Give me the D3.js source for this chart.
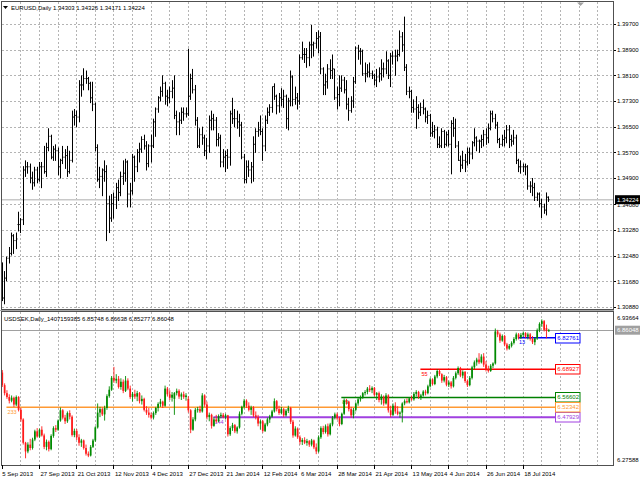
<!DOCTYPE html>
<html>
<head>
<meta charset="utf-8">
<script src="https://cdn.jsdelivr.net/npm/d3@7"></script>
<style>
  html, body { margin: 0; padding: 0; background: #fff; }
  svg { display: block; font-family: "Liberation Sans", Arial, sans-serif; font-size: 6px; }
</style>
</head>
<body>
<svg id="chart" width="640" height="480"></svg>
<script>
// ── Data ─────────────────────────────────────────────────────────────────────
const timeLabels = ["5 Sep 2013", "27 Sep 2013", "21 Oct 2013", "12 Nov 2013", "4 Dec 2013",
  "27 Dec 2013", "21 Jan 2014", "12 Feb 2014", "6 Mar 2014", "28 Mar 2014", "21 Apr 2014",
  "13 May 2014", "4 Jun 2014", "26 Jun 2014", "18 Jul 2014"];
const timeIdx = [0, 16, 32, 48, 64, 80, 96, 112, 128, 144, 160, 176, 192, 208, 224];

const eurTicks = [1.39700, 1.38900, 1.38100, 1.37300, 1.36500, 1.35700, 1.34900,
  1.34080, 1.33280, 1.32480, 1.31680, 1.30880];
const sekRange = [6.27588, 6.93664];

// EURUSD daily bars: [open, high, low, close]
const eurBars = [
  [1.3212,1.3227,1.3108,1.3116],[1.3116,1.3200,1.3098,1.3178],[1.3178,1.3245,1.3170,1.3240],[1.3240,1.3275,1.3225,1.3255],
  [1.3255,1.3320,1.3250,1.3310],[1.3310,1.3315,1.3255,1.3295],[1.3295,1.3320,1.3270,1.3300],[1.3345,1.3385,1.3325,1.3345],
  [1.3345,1.3365,1.3320,1.3360],[1.3360,1.3527,1.3345,1.3515],[1.3515,1.3545,1.3495,1.3525],[1.3525,1.3540,1.3505,1.3525],
  [1.3525,1.3535,1.3475,1.3490],[1.3490,1.3510,1.3455,1.3475],[1.3475,1.3525,1.3465,1.3515],[1.3515,1.3525,1.3475,1.3485],
  [1.3485,1.3540,1.3480,1.3525],[1.3525,1.3540,1.3460,1.3525],[1.3525,1.3590,1.3505,1.3510],[1.3510,1.3600,1.3495,1.3585],
  [1.3585,1.3645,1.3575,1.3620],[1.3620,1.3625,1.3550,1.3555],[1.3555,1.3590,1.3545,1.3580],[1.3580,1.3595,1.3545,1.3575],
  [1.3575,1.3585,1.3500,1.3525],[1.3525,1.3550,1.3490,1.3545],[1.3545,1.3590,1.3535,1.3555],[1.3555,1.3580,1.3520,1.3560],
  [1.3560,1.3590,1.3495,1.3510],[1.3510,1.3575,1.3505,1.3545],[1.3545,1.3700,1.3540,1.3680],[1.3680,1.3705,1.3655,1.3685],
  [1.3685,1.3700,1.3650,1.3680],[1.3680,1.3795,1.3665,1.3780],[1.3780,1.3810,1.3745,1.3780],[1.3780,1.3832,1.3765,1.3800],
  [1.3800,1.3825,1.3785,1.3800],[1.3800,1.3805,1.3765,1.3785],[1.3785,1.3790,1.3725,1.3740],[1.3740,1.3790,1.3700,1.3720],
  [1.3720,1.3725,1.3575,1.3585],[1.3585,1.3595,1.3480,1.3485],[1.3485,1.3525,1.3460,1.3495],[1.3495,1.3520,1.3435,1.3515],
  [1.3515,1.3545,1.3480,1.3510],[1.3510,1.3530,1.3295,1.3410],[1.3410,1.3435,1.3320,1.3365],[1.3365,1.3440,1.3355,1.3410],
  [1.3410,1.3445,1.3365,1.3430],[1.3430,1.3475,1.3395,1.3460],[1.3460,1.3485,1.3420,1.3445],[1.3445,1.3510,1.3435,1.3495],
  [1.3495,1.3545,1.3470,1.3505],[1.3505,1.3550,1.3480,1.3540],[1.3540,1.3545,1.3400,1.3440],[1.3440,1.3475,1.3400,1.3450],
  [1.3450,1.3565,1.3440,1.3555],[1.3555,1.3560,1.3480,1.3525],[1.3525,1.3580,1.3510,1.3570],[1.3570,1.3600,1.3540,1.3580],
  [1.3580,1.3620,1.3570,1.3610],[1.3610,1.3625,1.3580,1.3590],[1.3590,1.3605,1.3515,1.3535],[1.3535,1.3595,1.3525,1.3590],
  [1.3590,1.3625,1.3540,1.3590],[1.3590,1.3675,1.3585,1.3665],[1.3665,1.3710,1.3620,1.3705],[1.3705,1.3745,1.3695,1.3740],
  [1.3740,1.3775,1.3730,1.3760],[1.3760,1.3810,1.3745,1.3785],[1.3785,1.3790,1.3720,1.3745],[1.3745,1.3765,1.3715,1.3740],
  [1.3740,1.3775,1.3725,1.3760],[1.3760,1.3795,1.3740,1.3770],[1.3770,1.3810,1.3675,1.3685],[1.3685,1.3700,1.3625,1.3665],
  [1.3665,1.3695,1.3625,1.3670],[1.3670,1.3710,1.3660,1.3695],[1.3695,1.3710,1.3670,1.3690],[1.3690,1.3710,1.3680,1.3690],
  [1.3690,1.3893,1.3685,1.3745],[1.3745,1.3815,1.3735,1.3800],[1.3800,1.3830,1.3755,1.3765],[1.3765,1.3780,1.3655,1.3670],
  [1.3670,1.3680,1.3585,1.3590],[1.3590,1.3645,1.3585,1.3625],[1.3625,1.3650,1.3595,1.3615],[1.3615,1.3625,1.3560,1.3575],
  [1.3575,1.3615,1.3550,1.3590],[1.3590,1.3685,1.3570,1.3670],[1.3670,1.3700,1.3640,1.3675],[1.3675,1.3690,1.3640,1.3670],
  [1.3670,1.3680,1.3590,1.3610],[1.3610,1.3630,1.3590,1.3615],[1.3615,1.3625,1.3525,1.3540],[1.3540,1.3580,1.3525,1.3555],
  [1.3555,1.3575,1.3510,1.3560],[1.3560,1.3580,1.3520,1.3555],[1.3555,1.3700,1.3530,1.3690],[1.3690,1.3740,1.3660,1.3675],
  [1.3675,1.3705,1.3650,1.3675],[1.3675,1.3700,1.3645,1.3665],[1.3665,1.3690,1.3620,1.3655],[1.3655,1.3665,1.3550,1.3555],
  [1.3555,1.3565,1.3475,1.3485],[1.3485,1.3545,1.3475,1.3525],[1.3525,1.3545,1.3495,1.3515],[1.3515,1.3540,1.3475,1.3525],
  [1.3525,1.3620,1.3480,1.3595],[1.3595,1.3645,1.3570,1.3635],[1.3635,1.3665,1.3620,1.3640],[1.3640,1.3685,1.3625,1.3635],
  [1.3635,1.3645,1.3545,1.3590],[1.3590,1.3685,1.3575,1.3670],[1.3670,1.3710,1.3660,1.3695],[1.3695,1.3720,1.3685,1.3710],
  [1.3710,1.3775,1.3695,1.3775],[1.3775,1.3785,1.3735,1.3745],[1.3745,1.3750,1.3690,1.3715],[1.3715,1.3755,1.3695,1.3740],
  [1.3740,1.3770,1.3715,1.3735],[1.3735,1.3765,1.3710,1.3745],[1.3745,1.3750,1.3645,1.3675],[1.3675,1.3740,1.3640,1.3730],
  [1.3730,1.3825,1.3715,1.3805],[1.3805,1.3810,1.3715,1.3735],[1.3735,1.3775,1.3720,1.3740],[1.3740,1.3755,1.3705,1.3730],
  [1.3730,1.3875,1.3720,1.3865],[1.3865,1.3915,1.3860,1.3875],[1.3875,1.3895,1.3850,1.3875],[1.3875,1.3895,1.3835,1.3865],
  [1.3865,1.3915,1.3840,1.3905],[1.3905,1.3967,1.3865,1.3905],[1.3905,1.3915,1.3870,1.3910],[1.3910,1.3945,1.3895,1.3925],
  [1.3925,1.3950,1.3880,1.3930],[1.3930,1.3945,1.3815,1.3830],[1.3830,1.3835,1.3750,1.3780],[1.3780,1.3815,1.3750,1.3790],
  [1.3790,1.3845,1.3770,1.3830],[1.3830,1.3860,1.3800,1.3825],[1.3825,1.3875,1.3800,1.3830],[1.3830,1.3830,1.3735,1.3740],
  [1.3740,1.3775,1.3705,1.3750],[1.3750,1.3810,1.3715,1.3770],[1.3770,1.3810,1.3760,1.3795],[1.3795,1.3805,1.3755,1.3765],
  [1.3765,1.3795,1.3705,1.3720],[1.3720,1.3740,1.3670,1.3700],[1.3700,1.3745,1.3695,1.3730],[1.3730,1.3805,1.3710,1.3790],
  [1.3790,1.3900,1.3785,1.3895],[1.3895,1.3905,1.3860,1.3885],[1.3885,1.3895,1.3845,1.3885],[1.3885,1.3890,1.3810,1.3815],
  [1.3815,1.3850,1.3790,1.3815],[1.3815,1.3845,1.3805,1.3820],[1.3820,1.3850,1.3805,1.3815],[1.3815,1.3825,1.3800,1.3810],
  [1.3810,1.3815,1.3780,1.3795],[1.3795,1.3830,1.3775,1.3805],[1.3805,1.3835,1.3790,1.3815],[1.3815,1.3860,1.3795,1.3830],
  [1.3830,1.3850,1.3805,1.3830],[1.3830,1.3885,1.3815,1.3855],[1.3855,1.3860,1.3800,1.3810],[1.3810,1.3880,1.3775,1.3870],
  [1.3870,1.3885,1.3845,1.3870],[1.3870,1.3890,1.3810,1.3870],[1.3870,1.3890,1.3855,1.3875],[1.3875,1.3950,1.3870,1.3930],
  [1.3930,1.3945,1.3885,1.3905],[1.3905,1.3993,1.3825,1.3835],[1.3835,1.3845,1.3750,1.3760],[1.3760,1.3775,1.3740,1.3760],
  [1.3760,1.3765,1.3695,1.3710],[1.3710,1.3735,1.3695,1.3705],[1.3705,1.3745,1.3645,1.3710],[1.3710,1.3720,1.3675,1.3695],
  [1.3695,1.3725,1.3685,1.3710],[1.3710,1.3735,1.3690,1.3705],[1.3705,1.3710,1.3665,1.3680],[1.3680,1.3700,1.3660,1.3685],
  [1.3685,1.3690,1.3620,1.3630],[1.3630,1.3665,1.3620,1.3635],[1.3635,1.3655,1.3615,1.3640],[1.3640,1.3650,1.3585,1.3595],
  [1.3595,1.3620,1.3585,1.3590],[1.3590,1.3645,1.3585,1.3635],[1.3635,1.3640,1.3585,1.3595],[1.3595,1.3635,1.3590,1.3625],
  [1.3625,1.3640,1.3590,1.3595],[1.3595,1.3670,1.3503,1.3660],[1.3660,1.3680,1.3620,1.3645],[1.3645,1.3675,1.3585,1.3590],
  [1.3590,1.3605,1.3545,1.3545],[1.3545,1.3560,1.3510,1.3530],[1.3530,1.3575,1.3520,1.3545],[1.3545,1.3565,1.3510,1.3540],
  [1.3540,1.3585,1.3530,1.3570],[1.3570,1.3585,1.3535,1.3565],[1.3565,1.3605,1.3550,1.3600],[1.3600,1.3645,1.3590,1.3615],
  [1.3615,1.3620,1.3575,1.3605],[1.3605,1.3610,1.3570,1.3605],[1.3605,1.3625,1.3585,1.3610],[1.3610,1.3640,1.3590,1.3625],
  [1.3625,1.3645,1.3595,1.3615],[1.3615,1.3660,1.3600,1.3645],[1.3645,1.3700,1.3640,1.3690],[1.3690,1.3700,1.3665,1.3675],
  [1.3675,1.3690,1.3645,1.3655],[1.3655,1.3665,1.3600,1.3610],[1.3610,1.3615,1.3585,1.3595],[1.3595,1.3625,1.3590,1.3610],
  [1.3610,1.3640,1.3590,1.3615],[1.3615,1.3655,1.3600,1.3640],[1.3640,1.3655,1.3585,1.3610],[1.3610,1.3625,1.3590,1.3605],
  [1.3605,1.3640,1.3595,1.3615],[1.3615,1.3625,1.3535,1.3545],[1.3545,1.3550,1.3510,1.3525],[1.3525,1.3545,1.3505,1.3525],
  [1.3525,1.3535,1.3510,1.3525],[1.3525,1.3535,1.3500,1.3525],[1.3525,1.3530,1.3455,1.3465],[1.3465,1.3480,1.3445,1.3465],
  [1.3465,1.3490,1.3435,1.3460],[1.3460,1.3475,1.3420,1.3430],[1.3430,1.3445,1.3420,1.3440],[1.3440,1.3445,1.3400,1.3410],
  [1.3410,1.3425,1.3367,1.3400],[1.3400,1.3410,1.3380,1.3390],[1.3390,1.3445,1.3375,1.3430],[1.34303,1.34326,1.34171,1.34224]
];

// USDSEK daily candles: [open, high, low, close]
const sekBars = [
  [6.675,6.686,6.612,6.620],[6.620,6.628,6.575,6.585],[6.585,6.598,6.560,6.568],[6.568,6.580,6.540,6.552],
  [6.552,6.575,6.545,6.565],[6.565,6.570,6.525,6.535],[6.535,6.575,6.528,6.568],[6.568,6.572,6.505,6.512],
  [6.512,6.520,6.460,6.470],[6.470,6.475,6.360,6.368],[6.368,6.372,6.300,6.330],[6.330,6.370,6.322,6.360],
  [6.360,6.385,6.335,6.345],[6.345,6.390,6.338,6.382],[6.382,6.425,6.375,6.418],[6.418,6.432,6.390,6.395],
  [6.395,6.430,6.390,6.425],[6.425,6.440,6.395,6.400],[6.400,6.408,6.340,6.350],[6.350,6.382,6.335,6.372],
  [6.372,6.378,6.330,6.340],[6.340,6.405,6.335,6.398],[6.398,6.440,6.390,6.432],[6.432,6.445,6.415,6.425],
  [6.425,6.470,6.420,6.465],[6.465,6.522,6.460,6.510],[6.510,6.515,6.470,6.478],[6.478,6.490,6.450,6.462],
  [6.462,6.505,6.455,6.498],[6.498,6.510,6.470,6.482],[6.482,6.488,6.395,6.402],[6.402,6.430,6.392,6.420],
  [6.420,6.428,6.380,6.392],[6.392,6.405,6.355,6.368],[6.368,6.385,6.350,6.378],[6.378,6.382,6.338,6.345],
  [6.345,6.360,6.312,6.320],[6.320,6.330,6.305,6.312],[6.312,6.358,6.308,6.350],[6.350,6.385,6.345,6.378],
  [6.378,6.440,6.372,6.435],[6.435,6.540,6.430,6.500],[6.500,6.525,6.480,6.515],[6.515,6.522,6.485,6.492],
  [6.492,6.530,6.465,6.520],[6.520,6.580,6.512,6.572],[6.572,6.615,6.565,6.600],[6.600,6.660,6.595,6.652],
  [6.652,6.700,6.630,6.640],[6.640,6.668,6.628,6.648],[6.648,6.660,6.605,6.612],[6.612,6.650,6.600,6.635],
  [6.635,6.645,6.585,6.595],[6.595,6.660,6.590,6.640],[6.640,6.650,6.598,6.605],[6.605,6.618,6.560,6.568],
  [6.568,6.590,6.548,6.582],[6.582,6.600,6.560,6.570],[6.570,6.595,6.550,6.585],[6.585,6.590,6.540,6.550],
  [6.550,6.575,6.535,6.560],[6.560,6.565,6.505,6.512],[6.512,6.528,6.490,6.500],[6.500,6.520,6.478,6.490],
  [6.490,6.500,6.470,6.478],[6.478,6.505,6.470,6.498],[6.498,6.525,6.490,6.520],[6.520,6.545,6.505,6.538],
  [6.538,6.560,6.525,6.548],[6.548,6.552,6.520,6.530],[6.530,6.618,6.525,6.605],[6.605,6.612,6.570,6.580],
  [6.580,6.598,6.555,6.565],[6.565,6.590,6.548,6.578],[6.560,6.590,6.490,6.585],[6.585,6.605,6.575,6.595],
  [6.595,6.602,6.560,6.570],[6.570,6.588,6.555,6.580],[6.580,6.592,6.560,6.568],[6.568,6.585,6.552,6.575],
  [6.560,6.572,6.500,6.510],[6.510,6.515,6.410,6.425],[6.425,6.480,6.420,6.470],[6.470,6.520,6.462,6.512],
  [6.512,6.525,6.500,6.515],[6.515,6.530,6.498,6.505],[6.505,6.585,6.500,6.575],[6.575,6.580,6.525,6.535],
  [6.535,6.548,6.470,6.480],[6.480,6.500,6.462,6.490],[6.490,6.495,6.430,6.442],[6.442,6.480,6.438,6.470],
  [6.470,6.490,6.455,6.462],[6.462,6.492,6.458,6.485],[6.485,6.500,6.475,6.490],[6.490,6.498,6.475,6.480],
  [6.480,6.495,6.470,6.488],[6.488,6.490,6.395,6.405],[6.405,6.440,6.398,6.432],[6.432,6.455,6.420,6.445],
  [6.445,6.450,6.410,6.418],[6.418,6.440,6.408,6.435],[6.435,6.505,6.430,6.495],[6.495,6.530,6.488,6.525],
  [6.525,6.560,6.518,6.552],[6.552,6.558,6.520,6.530],[6.530,6.545,6.505,6.512],[6.512,6.530,6.490,6.522],
  [6.522,6.528,6.480,6.488],[6.488,6.505,6.470,6.480],[6.480,6.490,6.440,6.452],[6.452,6.470,6.425,6.462],
  [6.462,6.468,6.412,6.420],[6.420,6.455,6.415,6.448],[6.448,6.478,6.440,6.470],[6.470,6.490,6.455,6.482],
  [6.482,6.512,6.478,6.505],[6.505,6.562,6.500,6.550],[6.550,6.555,6.505,6.515],[6.515,6.530,6.490,6.498],
  [6.498,6.525,6.492,6.515],[6.515,6.520,6.480,6.488],[6.488,6.515,6.482,6.508],[6.508,6.530,6.498,6.520],
  [6.520,6.525,6.450,6.460],[6.460,6.468,6.390,6.400],[6.400,6.440,6.395,6.430],[6.430,6.435,6.385,6.392],
  [6.392,6.400,6.360,6.372],[6.372,6.388,6.358,6.380],[6.380,6.392,6.362,6.368],[6.368,6.385,6.355,6.375],
  [6.375,6.380,6.350,6.360],[6.360,6.385,6.352,6.378],[6.378,6.382,6.340,6.348],[6.348,6.365,6.318,6.330],
  [6.330,6.400,6.325,6.392],[6.392,6.440,6.385,6.432],[6.432,6.442,6.405,6.415],[6.415,6.448,6.408,6.440],
  [6.440,6.452,6.395,6.405],[6.405,6.455,6.400,6.448],[6.448,6.485,6.440,6.478],[6.478,6.500,6.470,6.492],
  [6.492,6.500,6.468,6.475],[6.475,6.482,6.440,6.450],[6.450,6.500,6.445,6.495],[6.495,6.562,6.490,6.552],
  [6.552,6.560,6.535,6.548],[6.548,6.552,6.505,6.515],[6.515,6.525,6.478,6.488],[6.488,6.520,6.475,6.512],
  [6.512,6.545,6.505,6.540],[6.540,6.565,6.530,6.558],[6.558,6.575,6.548,6.568],[6.568,6.590,6.560,6.585],
  [6.585,6.598,6.575,6.590],[6.590,6.612,6.580,6.605],[6.605,6.620,6.590,6.598],[6.598,6.615,6.585,6.608],
  [6.608,6.612,6.570,6.578],[6.578,6.590,6.555,6.585],[6.585,6.592,6.545,6.555],[6.555,6.580,6.535,6.570],
  [6.570,6.575,6.530,6.540],[6.540,6.585,6.535,6.575],[6.575,6.580,6.500,6.510],[6.510,6.530,6.480,6.490],
  [6.490,6.540,6.485,6.530],[6.530,6.545,6.495,6.505],[6.505,6.528,6.488,6.495],[6.495,6.505,6.478,6.500],
  [6.500,6.545,6.457,6.540],[6.540,6.558,6.532,6.550],[6.550,6.562,6.540,6.545],[6.545,6.568,6.540,6.562],
  [6.562,6.575,6.552,6.558],[6.558,6.590,6.552,6.582],[6.582,6.598,6.570,6.590],[6.590,6.595,6.560,6.568],
  [6.568,6.582,6.555,6.575],[6.575,6.598,6.570,6.592],[6.592,6.600,6.575,6.585],[6.585,6.622,6.580,6.615],
  [6.615,6.652,6.610,6.645],[6.645,6.650,6.618,6.625],[6.625,6.665,6.620,6.658],[6.658,6.690,6.650,6.682],
  [6.682,6.688,6.660,6.668],[6.668,6.672,6.630,6.640],[6.640,6.665,6.632,6.655],[6.655,6.660,6.615,6.622],
  [6.622,6.640,6.612,6.632],[6.632,6.638,6.605,6.615],[6.615,6.660,6.610,6.652],[6.652,6.680,6.645,6.672],
  [6.672,6.702,6.665,6.695],[6.695,6.700,6.655,6.662],[6.662,6.685,6.650,6.678],[6.678,6.682,6.630,6.638],
  [6.638,6.645,6.612,6.620],[6.620,6.660,6.615,6.652],[6.652,6.705,6.645,6.698],[6.698,6.728,6.690,6.720],
  [6.720,6.740,6.705,6.732],[6.732,6.760,6.712,6.720],[6.720,6.755,6.715,6.745],[6.745,6.760,6.700,6.710],
  [6.710,6.725,6.680,6.690],[6.690,6.705,6.675,6.682],[6.682,6.712,6.678,6.705],[6.705,6.720,6.695,6.715],
  [6.715,6.868,6.710,6.855],[6.855,6.862,6.830,6.842],[6.842,6.850,6.805,6.815],[6.815,6.842,6.810,6.835],
  [6.835,6.840,6.790,6.798],[6.798,6.805,6.772,6.780],[6.780,6.800,6.775,6.792],[6.792,6.812,6.785,6.805],
  [6.805,6.830,6.798,6.822],[6.822,6.850,6.815,6.842],[6.842,6.848,6.820,6.828],[6.828,6.848,6.822,6.840],
  [6.840,6.855,6.830,6.848],[6.848,6.852,6.825,6.832],[6.832,6.850,6.820,6.842],[6.842,6.848,6.815,6.822],
  [6.822,6.835,6.800,6.808],[6.808,6.830,6.795,6.825],[6.825,6.868,6.818,6.860],[6.860,6.895,6.852,6.888],
  [6.888,6.908,6.875,6.900],[6.900,6.905,6.855,6.862],[6.870,6.885,6.825,6.857],[6.85748,6.86638,6.85277,6.86048]
];

// Horizontal levels in the USDSEK window (period label, value)
const levelPeriods = [13, 55, 89, 144, 233];
const levelValues  = [6.82761, 6.68927, 6.56602, 6.47929, 6.52342];
const levelColors  = ["#0000ff", "#ff0000", "#008000", "#a040e0", "#ff9933"];

// ── Layout ───────────────────────────────────────────────────────────────────
const L = 2, R = 614, T1 = 2, B1 = 309.5, T2 = 311.5, B2 = 465;
const svg = d3.select("#chart");

const x   = d3.scaleLinear().domain([0, 235]).range([1.8, 548.3]);
const yE  = d3.scaleLinear().domain([1.30880, 1.39700]).range([307, 24]);
const yS  = d3.scaleLinear().domain(sekRange).range([463.8, 312.8]);
const px  = v => Math.round(v) + 0.5;
const last = eurBars.length - 1;

// Grid
const grid = svg.append("g").attr("stroke", "#b4b4b4").attr("stroke-dasharray", "2,2")
  .attr("shape-rendering", "crispEdges");
const vIdx = d3.range(8, 264, 8).filter(i => x(i) < R - 1);
grid.selectAll("line.v1").data(vIdx).join("line")
  .attr("x1", i => px(x(i))).attr("x2", i => px(x(i))).attr("y1", T1).attr("y2", B1);
grid.selectAll("line.v2").data(vIdx).join("line").attr("class", "v2")
  .attr("x1", i => px(x(i))).attr("x2", i => px(x(i))).attr("y1", T2).attr("y2", B2);
grid.selectAll("line.h").data(eurTicks).join("line").attr("class", "h")
  .attr("x1", L).attr("x2", R).attr("y1", d => px(yE(d))).attr("y2", d => px(yE(d)));

// Bid lines
svg.append("line").attr("x1", L).attr("x2", R)
  .attr("y1", yE(eurBars[last][3])).attr("y2", yE(eurBars[last][3]))
  .attr("stroke", "#c8c8c8").attr("stroke-width", 1.6);
svg.append("line").attr("x1", L).attr("x2", R)
  .attr("y1", px(yS(sekBars[last][3]))).attr("y2", px(yS(sekBars[last][3])))
  .attr("stroke", "#a0a0a0").attr("stroke-width", 1).attr("shape-rendering", "crispEdges");

// EURUSD OHLC bars
svg.append("g").attr("stroke", "#000").attr("stroke-width", 1).attr("fill", "none")
  .selectAll("path").data(eurBars).join("path")
  .attr("d", (d, i) => {
    const cx = px(x(i));
    return `M${cx},${yE(d[1])}V${yE(d[2]) + 0.5}M${cx - 1},${yE(d[0])}H${cx}M${cx},${yE(d[3])}H${cx + 1}`;
  });

// Level lines (drawn behind candles)
const lev = svg.append("g");
levelPeriods.forEach((p, k) => {
  const y0 = yS(levelValues[k]);
  lev.append("line").attr("x1", x(last - p)).attr("x2", 556).attr("y1", y0).attr("y2", y0)
    .attr("stroke", levelColors[k]).attr("stroke-width", k === 3 ? 2 : 1.5);
  lev.append("text").attr("x", x(last - p) + 1).attr("y", y0 + 6.5)
    .attr("font-size", "5.5px").attr("fill", levelColors[k]).text(p);
});

// USDSEK candles
const up = "#008a00", dn = "#ff1a1a";
const cg = svg.append("g");
cg.selectAll("line").data(sekBars).join("line")
  .attr("x1", (d, i) => x(i) + 0.5).attr("x2", (d, i) => x(i) + 0.5)
  .attr("y1", d => yS(d[1])).attr("y2", d => yS(d[2]))
  .attr("stroke", d => d[3] >= d[0] ? up : dn).attr("stroke-width", 0.9);
cg.selectAll("rect").data(sekBars).join("rect")
  .attr("x", (d, i) => x(i) - 0.35).attr("width", 1.7)
  .attr("y", d => yS(Math.max(d[0], d[3])))
  .attr("height", d => Math.max(1, Math.abs(yS(d[0]) - yS(d[3]))))
  .attr("fill", d => d[3] >= d[0] ? up : dn);

// Level value boxes
levelPeriods.forEach((p, k) => {
  const y0 = yS(levelValues[k]);
  const g = svg.append("g");
  g.append("rect").attr("x", 555.5).attr("y", Math.round(y0) - 4.5).attr("width", 24.5).attr("height", 9.5)
    .attr("fill", "#fff").attr("stroke", levelColors[k]).attr("stroke-width", 1);
  g.append("text").attr("x", 557.3).attr("y", Math.round(y0) + 2.3)
    .attr("font-size", "6px").attr("fill", levelColors[k]).text(levelValues[k].toFixed(5));
});

// Frames
const fr = svg.append("g").attr("stroke", "#505050").attr("fill", "none").attr("shape-rendering", "crispEdges");
fr.append("rect").attr("x", L - 0.5).attr("y", T1 - 0.5).attr("width", R - L).attr("height", B1 - T1);
fr.append("rect").attr("x", L - 0.5).attr("y", T2).attr("width", R - L).attr("height", B2 - T2);
svg.append("line").attr("x1", 0).attr("x2", R).attr("y1", 310.5).attr("y2", 310.5)
  .attr("stroke", "#a8a8a8").attr("shape-rendering", "crispEdges");
svg.append("path").attr("d", "M577,2.5H584L580.5,6Z").attr("fill", "#a0a0a0");

// EURUSD price axis
const ax = svg.append("g");
eurTicks.forEach(t => {
  ax.append("line").attr("x1", R).attr("x2", R + 2).attr("y1", px(yE(t))).attr("y2", px(yE(t)))
    .attr("stroke", "#000").attr("shape-rendering", "crispEdges");
  ax.append("text").attr("x", R + 3).attr("y", yE(t) + 2.2).attr("fill", "#000").text(t.toFixed(5));
});
const eurBid = eurBars[last][3];
ax.append("rect").attr("x", R + 1).attr("y", yE(eurBid) - 4.5).attr("width", 25).attr("height", 9).attr("fill", "#000");
ax.append("text").attr("x", R + 3).attr("y", yE(eurBid) + 2.2).attr("fill", "#fff").text(eurBid.toFixed(5));

// USDSEK price axis
ax.append("text").attr("x", R + 3).attr("y", yS(sekRange[1]) + 7).text(sekRange[1].toFixed(5));
ax.append("text").attr("x", R + 3).attr("y", yS(sekRange[0]) - 1.5).text(sekRange[0].toFixed(5));
const sekBid = sekBars[last][3];
ax.append("rect").attr("x", R + 1).attr("y", yS(sekBid) - 4.5).attr("width", 25).attr("height", 9).attr("fill", "#a0a0a0");
ax.append("text").attr("x", R + 3).attr("y", yS(sekBid) + 2.2).attr("fill", "#fff").text(sekBid.toFixed(5));

// Time axis
const tx = svg.append("g");
timeIdx.forEach((i, k) => {
  tx.append("line").attr("x1", px(x(i))).attr("x2", px(x(i))).attr("y1", B2).attr("y2", B2 + 4)
    .attr("stroke", "#000").attr("shape-rendering", "crispEdges");
  tx.append("text").attr("x", x(i) + (k === 0 ? 0.5 : 1.5)).attr("y", 476).text(timeLabels[k]);
});

// Window titles
svg.append("path").attr("d", "M3,6H8L5.5,9Z").attr("fill", "#000");
svg.append("text").attr("x", 11).attr("y", 10)
  .text("EURUSD,Daily  " + eurBars[last].map(v => v.toFixed(5)).join(" "));
svg.append("text").attr("x", 4).attr("y", 321)
  .text("USDSEK,Daily_1407159385 " + sekBars[last].map(v => v.toFixed(5)).join(" "));
</script>
</body>
</html>
